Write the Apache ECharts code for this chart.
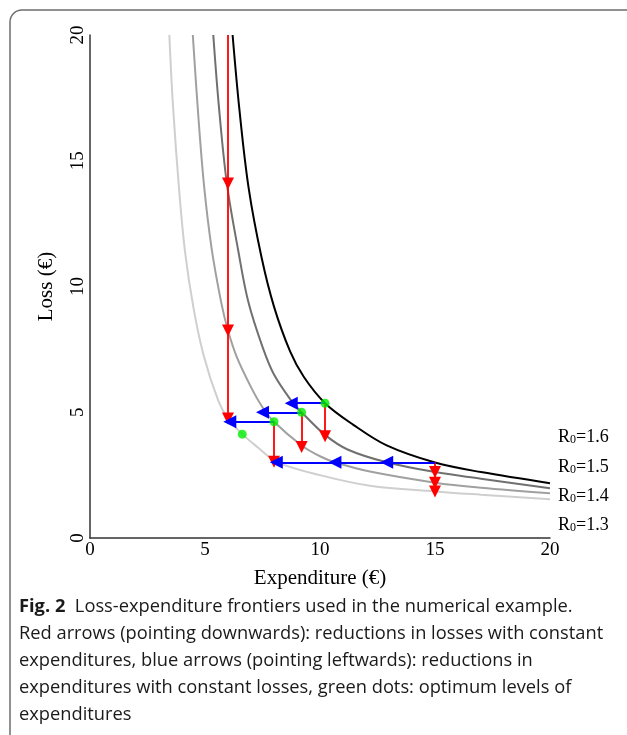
<!DOCTYPE html>
<html>
<head>
<meta charset="utf-8">
<script src="https://cdn.jsdelivr.net/npm/echarts@6/dist/echarts.min.js"></script>
<style>
html,body{margin:0;padding:0;background:#fff;}
#chart{width:627px;height:735px;}
</style>
</head>
<body>
<div id="chart"></div>
<script>
// ---- Data ----
const xTicks = [0, 5, 10, 15, 20];
const yTicks = [0, 5, 10, 15, 20];

// Frontier R0=1.6
const exp16  = [6.2, 6.5, 6.9, 7.46, 8.0, 8.7, 9.3, 10.22, 11.45, 12.9, 15.0, 17.0, 20.0];
const loss16 = [20, 17.0, 13.9, 11.15, 9.2, 7.42, 6.4, 5.36, 4.5, 3.68, 3.0, 2.62, 2.18];
// Frontier R0=1.5
const exp15  = [5.36, 5.6, 5.95, 6.45, 6.88, 7.5, 8.0, 8.8, 9.2, 10.22, 11.2, 12.9, 15.0, 17.0, 20.0];
const loss15 = [20, 17.2, 14.1, 11.4, 9.4, 7.6, 6.5, 5.4, 5.0, 4.1, 3.52, 3.01, 2.62, 2.36, 1.98];
// Frontier R0=1.4
const exp14  = [4.47, 4.7, 4.96, 5.29, 5.72, 6.0, 6.38, 7.0, 7.5, 8.0, 9.2, 10.0, 10.65, 12.17, 15.0, 17.0, 20.0];
const loss14 = [20, 16.9, 14.0, 11.5, 9.3, 8.25, 7.2, 6.0, 5.2, 4.62, 3.68, 3.25, 3.01, 2.64, 2.2, 2.0, 1.78];
// Frontier R0=1.3
const exp13  = [3.45, 3.6, 3.87, 4.13, 4.49, 4.93, 5.58, 6.0, 6.62, 7.3, 8.1, 10.0, 12.17, 15.0, 17.0, 20.0];
const loss13 = [20, 17.3, 13.9, 11.4, 9.2, 7.3, 5.45, 4.75, 4.13, 3.6, 3.03, 2.5, 2.08, 1.85, 1.72, 1.54];

const frontierNames = ['R0=1.6', 'R0=1.5', 'R0=1.4', 'R0=1.3'];

// Red arrows: constant expenditure, loss from -> to
const redExp      = [6.0, 6.0, 6.0, 10.22, 9.2, 8.0, 15.0, 15.0, 15.0];
const redLossFrom = [20, 14.1, 8.25, 5.36, 5.0, 4.62, 3.0, 2.62, 2.2];
const redLossTo   = [14.1, 8.25, 4.75, 4.05, 3.62, 3.03, 2.62, 2.2, 1.85];

// Blue arrows: constant loss, expenditure from -> to
const blueLoss    = [5.36, 5.0, 4.62, 3.01, 3.01, 3.01];
const blueExpFrom = [10.22, 9.2, 8.0, 15.0, 12.9, 10.65];
const blueExpTo   = [8.75, 7.5, 6.08, 12.9, 10.65, 8.1];

// Green dots: optimum levels
const greenExp  = [10.22, 9.2, 8.0, 6.62];
const greenLoss = [5.36, 5.0, 4.62, 4.13];

const captionLines = [
  'Loss-expenditure frontiers used in the numerical example.',
  'Red arrows (pointing downwards): reductions in losses with constant',
  'expenditures, blue arrows (pointing leftwards): reductions in',
  'expenditures with constant losses, green dots: optimum levels of',
  'expenditures'
];

// ---- Build ----
const zip = (a, b) => a.map((v, i) => [v, b[i]]);
const serif = 'Liberation Serif';
const curveColors = ['#000000', '#707070', '#a0a0a0', '#cfcfcf'];
const curveData = [zip(exp16, loss16), zip(exp15, loss15), zip(exp14, loss14), zip(exp13, loss13)];

const curveSeries = curveData.map((d, i) => ({
  type: 'line', name: frontierNames[i], data: d, showSymbol: false,
  smooth: 0.35, silent: true, z: 2,
  lineStyle: { color: curveColors[i], width: 2 }
}));

const redLines = redExp.map((e, i) => ({ coords: [[e, redLossFrom[i]], [e, redLossTo[i]]] }));
const blueLines = blueLoss.map((l, i) => ({ coords: [[blueExpFrom[i], l], [blueExpTo[i], l]] }));

const chart = echarts.init(document.getElementById('chart'), null, { renderer: 'canvas' });

const labelY = [440, 470, 499, 528];
const graphics = [
  { type: 'rect', shape: { x: 10, y: 10, width: 640, height: 760, r: [12, 0, 0, 0] },
    style: { fill: 'none', stroke: '#6e6e6e', lineWidth: 1.5 }, silent: true, z: 0 }
];
frontierNames.forEach((n, i) => {
  graphics.push({
    type: 'text', left: 558, top: labelY[i] - 12,
    style: {
      text: '{r|R}{s|0}{r|' + n.slice(2) + '}',
      rich: {
        r: { fontFamily: serif, fontSize: 18, lineHeight: 22, verticalAlign: 'bottom', fill: '#000' },
        s: { fontFamily: serif, fontSize: 12, lineHeight: 13, verticalAlign: 'bottom', fill: '#000' }
      }
    }
  });
});
captionLines.forEach((t, i) => {
  graphics.push({
    type: 'text', left: 19, top: 598 + i * 27,
    style: {
      text: i === 0 ? '{b|Fig. 2}  ' + t : t,
      fontFamily: 'Open Sans', fontSize: 18.3, fill: '#1a1a1a',
      rich: { b: { fontFamily: 'Open Sans', fontSize: 18.3, fontWeight: 'bold', fill: '#1a1a1a' } }
    }
  });
});

chart.setOption({
  animation: false,
  backgroundColor: '#fff',
  grid: { left: 90, right: 77, top: 35, bottom: 197 },
  xAxis: {
    type: 'value', min: xTicks[0], max: xTicks[xTicks.length - 1], interval: 5,
    name: 'Expenditure (€)', nameLocation: 'middle', nameGap: 30,
    nameTextStyle: { fontFamily: serif, fontSize: 21, color: '#000' },
    axisLine: { lineStyle: { color: '#333', width: 1.5 } },
    axisTick: { show: false }, splitLine: { show: false },
    axisLabel: { fontFamily: serif, fontSize: 19, color: '#000', margin: 3,
      formatter: v => xTicks.includes(v) ? String(v) : '' }
  },
  yAxis: {
    type: 'value', min: yTicks[0], max: yTicks[yTicks.length - 1], interval: 5,
    name: 'Loss (€)', nameLocation: 'middle', nameGap: 33, nameRotate: 90,
    nameTextStyle: { fontFamily: serif, fontSize: 21, color: '#000' },
    axisLine: { show: true, lineStyle: { color: '#333', width: 1.5 } },
    axisTick: { show: false }, splitLine: { show: false },
    axisLabel: { fontFamily: serif, fontSize: 19, color: '#000', margin: 2, rotate: 90,
      formatter: v => yTicks.includes(v) ? String(v) : '' }
  },
  graphic: graphics,
  series: curveSeries.concat([
    { type: 'lines', coordinateSystem: 'cartesian2d', data: redLines, z: 4, silent: true,
      symbol: ['none', 'triangle'], symbolSize: [11, 12], symbolOffset: [0, 5],
      lineStyle: { color: '#ff0000', width: 1.8, opacity: 1 } },
    { type: 'lines', coordinateSystem: 'cartesian2d', data: blueLines, z: 4, silent: true,
      symbol: ['none', 'triangle'], symbolSize: [11, 13], symbolOffset: [0, 5],
      lineStyle: { color: '#0000ff', width: 2.2, opacity: 1 } },
    { type: 'scatter', data: zip(greenExp, greenLoss), symbolSize: 9, z: 5, silent: true,
      itemStyle: { color: '#00ee00' } }
  ])
});
</script>
</body>
</html>
